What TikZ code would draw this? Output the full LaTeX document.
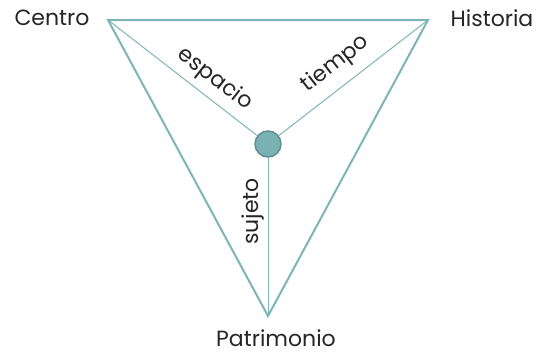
\documentclass[tikz,border=0pt]{standalone}
\usepackage{fontspec}
\setmainfont{Poppins}
\usepackage{tikz}

\definecolor{tealline}{HTML}{7FB4B6}
\definecolor{tealfill}{HTML}{7AB1B3}
\definecolor{tealdark}{HTML}{5E8E90}

\begin{document}
\begin{tikzpicture}[x=1pt,y=-1pt,
    edge/.style={tealline, line width=2pt},
    spoke/.style={tealline, line width=1pt},
    lbl/.style={font=\fontsize{22}{26}\selectfont, text=black!85, inner sep=1pt}]
    \useasboundingbox (0,0) rectangle (539,354);

    \coordinate (c) at (108,20);
    \coordinate (h) at (428,20);
    \coordinate (p) at (268,316);
    \node[circle, fill=tealfill, draw=tealdark, line width=1.5pt, minimum size=26pt, inner sep=0pt] (o) at (268,144) {};

    \draw[edge, line join=miter] (c) -- (h) -- (p) -- cycle;

    \draw[spoke] (c) -- (o) node[lbl, pos=0.64, above=6pt, sloped] {espacio};
    \draw[spoke] (h) -- (o) node[lbl, pos=0.53, above=9pt, sloped] {tiempo};
    \draw[spoke] (p) -- (o) node[lbl, pos=0.66, above=2pt, sloped] {sujeto};

    \node[lbl] (centro) at (52,18) {Centro};
    \node[lbl] (historia) at (492,18) {Historia};
    \node[lbl] (patrimonio) at (276,338) {Patrimonio};
\end{tikzpicture}
\end{document}
